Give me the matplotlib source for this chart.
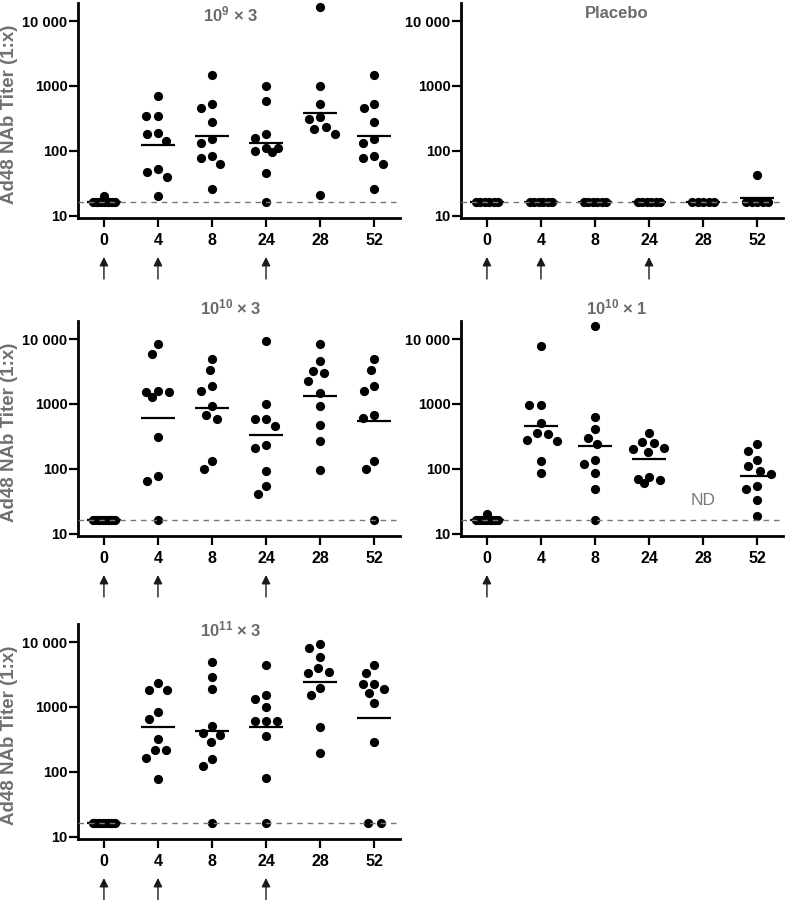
import numpy as np
import matplotlib
matplotlib.use("Agg")
import matplotlib.pyplot as plt
from matplotlib.ticker import NullLocator

plt.rcParams['font.family'] = ['Liberation Sans', 'DejaVu Sans']
plt.rcParams['font.weight'] = 'bold'
plt.rcParams['mathtext.fontset'] = 'custom'
plt.rcParams['mathtext.rm'] = 'Liberation Sans'
plt.rcParams['mathtext.bf'] = 'Liberation Sans:bold'
plt.rcParams['mathtext.default'] = 'bf'

# data (titers, 1:x) per week
weeks = ["0", "4", "8", "24", "28", "52"]
lloq = 16

g9x3 = [
    [16, 16, 16, 16, 16, 16, 16, 16, 16, 20],
    [705, 350, 350, 191, 182, 142, 47, 52, 40, 20],
    [1490, 524, 449, 276, 151, 134, 83, 77, 63, 26],
    [981, 589, 182, 158, 110, 100, 96, 110, 45, 16],
    [16500, 1005, 530, 311, 330, 215, 231, 182, 21],
    [1490, 530, 449, 279, 151, 131, 83, 77, 63, 26],
]
placebo = [
    [16, 16, 16, 16, 16, 16],
    [16, 16, 16, 16, 16, 16],
    [16, 16, 16, 16, 16, 16],
    [16, 16, 16, 16, 16, 16],
    [16, 16, 16, 16, 16],
    [16, 16, 16, 16, 16, 43],
]
g10x3 = [
    [16, 16, 16, 16, 16, 16, 16, 16, 16, 16],
    [8375, 5875, 1549, 1510, 1297, 1567, 307, 77, 65, 16],
    [4977, 3336, 1871, 1603, 942, 670, 588, 130, 98],
    [9420, 1000, 588, 588, 464, 234, 210, 94, 55, 41],
    [8375, 4529, 3259, 2999, 2285, 1476, 942, 481, 273, 97],
    [4920, 3336, 1871, 1567, 670, 609, 130, 98, 16],
]
g10x1 = [
    [16, 16, 16, 16, 16, 16, 16, 16, 16, 20],
    [7890, 977, 977, 516, 354, 345, 282, 273, 134, 86],
    [15670, 623, 412, 300, 237, 137, 117, 87, 48, 16],
    [358, 248, 257, 208, 180, 205, 70, 60, 66, 74],
    [],
    [237, 187, 137, 109, 92, 84, 55, 49, 33, 19],
]
g11x3 = [
    [16, 16, 16, 16, 16, 16, 16, 16, 16, 16],
    [2362, 1799, 1799, 843, 658, 316, 214, 214, 163, 78],
    [4966, 2884, 1862, 507, 400, 373, 288, 159, 123, 16],
    [4365, 1542, 1337, 984, 612, 598, 612, 356, 81, 16],
    [9420, 8166, 5944, 3443, 3365, 3972, 1954, 1507, 495, 192],
    [4467, 3289, 2249, 2222, 1862, 1656, 1161, 288, 16, 16],
]

W, H = 787, 900
YLIM = (9.2, 19000)
XLIM = (-0.48, 5.48)


def swarm(vals, px_cat, px_dec, d=11.5, lim=16.0):
    # beeswarm in pixel space, kept within +-lim px; floor values in a compressed row
    vals = np.asarray(vals, float)
    off = np.zeros(len(vals))
    floor = vals <= lloq
    nf = int(floor.sum())
    if nf > 1:
        span = min((nf - 1) * 13, 22)
        off[floor] = np.linspace(-span / 2, span / 2, nf)
    ys = np.log10(vals) * px_dec
    idx = np.where(~floor)[0]
    placed = []

    def mind(c, y):
        if not placed:
            return np.inf
        return min(np.hypot(c - xj, y - yj) for xj, yj in placed)

    for i in idx[np.argsort(-ys[idx], kind="stable")]:
        cands = [0.0]
        for xj, yj in placed:
            dy = ys[i] - yj
            if abs(dy) < d:
                dx = np.sqrt(d * d - dy * dy)
                cands += [xj - dx, xj + dx]
        ok = [c for c in cands if abs(c) <= lim and mind(c, ys[i]) >= d - 1e-6]
        if ok:
            best = min(ok, key=lambda c: (abs(c), c))
        else:
            grid = np.linspace(-lim, lim, 65)
            best = max(grid, key=lambda c: (round(mind(c, ys[i]), 3), -abs(c)))
        off[i] = best
        placed.append((best, ys[i]))
    return off / px_cat


fig = plt.figure(figsize=(W / 100, H / 100), dpi=100)

panels = [
    (g9x3, "$10^{9}$ × 3", 78, 218, [0, 1, 3], (231, 14)),
    (placebo, "Placebo", 461, 218, [0, 1, 3], (617, 13)),
    (g10x3, "$10^{10}$ × 3", 78, 536, [0, 1, 3], (231, 307)),
    (g10x1, "$10^{10}$ × 1", 461, 536, [0], (617, 307)),
    (g11x3, "$10^{11}$ × 3", 78, 839, [0, 1, 3], (231, 629)),
]

aw, ah = 322, 215
for data, title, left, bottom, doses, tpos in panels:
    ax = fig.add_axes([left / W, 1 - bottom / H, aw / W, ah / H])
    ax.set_yscale("log")
    ax.set_ylim(*YLIM)
    ax.set_xlim(*XLIM)
    px_cat = aw / (XLIM[1] - XLIM[0])
    px_dec = ah / np.log10(YLIM[1] / YLIM[0])

    for i, vals in enumerate(data):
        if len(vals) == 0:
            continue
        off = swarm(vals, px_cat, px_dec)
        ax.scatter(i + off, vals, s=44, color="black", linewidths=0, zorder=3, clip_on=False)
        gm = np.exp(np.mean(np.log(vals)))
        ax.hlines(gm, i - 0.32, i + 0.32, color="black", lw=1.6, zorder=4)

    ax.axhline(lloq, color="#777777", lw=1.0, ls=(0, (4, 3.5)), zorder=5)

    if len(data[4]) == 0:
        ax.text(4, 32, "ND", ha="center", va="center", fontsize=12.5,
                fontweight="normal", color="#7a7a7a")

    ax.set_xticks(range(len(weeks)))
    ax.set_xticklabels(weeks, fontsize=11.5, fontweight="bold")
    ax.set_yticks([10, 100, 1000, 10000])
    ax.set_yticklabels(["10", "100", "1000", "10 000"], fontsize=10.5, fontweight="bold")
    ax.yaxis.set_minor_locator(NullLocator())
    ax.tick_params(axis="both", direction="out", length=6.5, width=1.6, color="black")
    ax.tick_params(axis="y", pad=1)
    ax.tick_params(axis="x", pad=4)
    for s in ["top", "right"]:
        ax.spines[s].set_visible(False)
    for s in ["left", "bottom"]:
        ax.spines[s].set_linewidth(2.0)

    # dose arrows
    for d in doses:
        ax.annotate("", xy=(d, -39 / ah), xytext=(d, -61 / ah),
                    xycoords=ax.get_xaxis_transform(), textcoords=ax.get_xaxis_transform(),
                    annotation_clip=False,
                    arrowprops=dict(arrowstyle="-|>", color="#1a1a1a", lw=1.0,
                                    mutation_scale=13, shrinkA=0, shrinkB=0))

    fig.text(tpos[0] / W, 1 - tpos[1] / H, title, ha="center", va="center",
             fontsize=12, fontweight="bold", color="#6a6a6a")

    if left < 100:
        fig.text(10 / W, 1 - (bottom - ah / 2 + 4) / H, "Ad48 NAb Titer (1:x)", rotation=90,
                 ha="center", va="center", fontsize=13.5, fontweight="bold", color="#707070")

fig.savefig("out.png", dpi=100)
